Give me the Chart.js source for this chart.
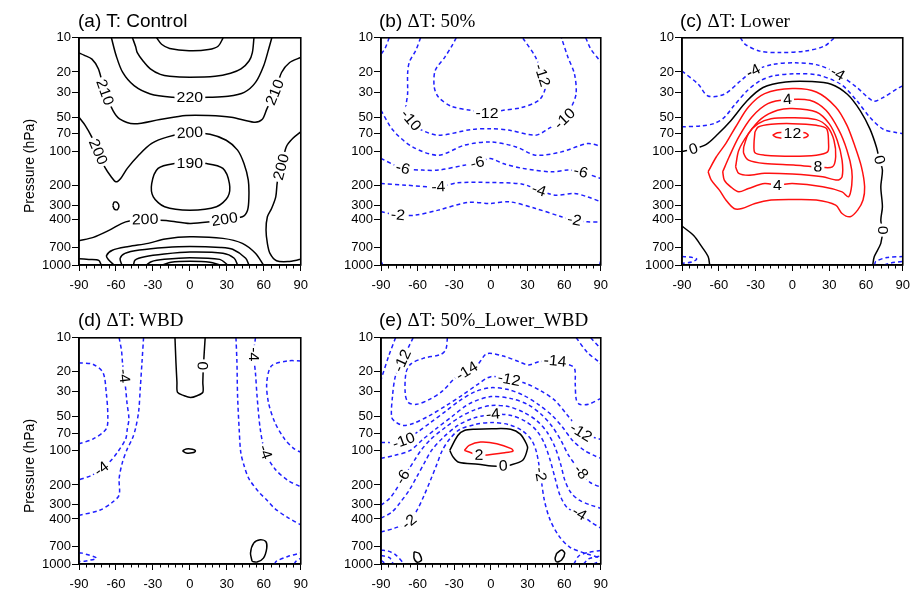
<!DOCTYPE html>
<html>
<head>
<meta charset="utf-8">
<script src="https://cdn.jsdelivr.net/npm/chart.js@4.4.1/dist/chart.umd.min.js"></script>
<style>
  html, body { margin: 0; padding: 0; background: #fff; overflow: hidden; }
  #page { position: relative; width: 913px; height: 589px; overflow: hidden; background: #fff; }
  canvas { position: absolute; }
  .ttl { position: absolute; font: 19px "Liberation Sans", Arial, sans-serif; white-space: nowrap; color: #000; line-height: 22px; }
  .ttl .tm { font-family: "Liberation Serif", "Times New Roman", serif; }
  .ylab { position: absolute; font: 14px "Liberation Sans", Arial, sans-serif; white-space: nowrap; color: #000;
          transform: translate(-50%, -50%) rotate(-90deg); }
</style>
</head>
<body>
<div id="page">
  <canvas id="pa"></canvas>
  <canvas id="pb"></canvas>
  <canvas id="pc"></canvas>
  <canvas id="pd"></canvas>
  <canvas id="pe"></canvas>
  <div class="ttl" style="left:78px;top:10px">(a) T: Control</div>
  <div class="ttl" style="left:379px;top:10px">(b) <span class="tm">&Delta;T: 50%</span></div>
  <div class="ttl" style="left:680px;top:10px">(c) <span class="tm">&Delta;T: Lower</span></div>
  <div class="ttl" style="left:78px;top:309px">(d) <span class="tm">&Delta;T: WBD</span></div>
  <div class="ttl" style="left:379px;top:309px">(e) <span class="tm">&Delta;T: 50%_Lower_WBD</span></div>
  <div class="ylab" style="left:29px;top:166px">Pressure (hPa)</div>
  <div class="ylab" style="left:29px;top:466px">Pressure (hPa)</div>
</div>
<script>
"use strict";

// axis ticks
var latTicks = [-90, -60, -30, 0, 30, 60, 90];
var presTicks = [10, 20, 30, 50, 70, 100, 200, 300, 400, 700, 1000];

// ------------------------------------------------------- //
// (a) T: Control   [lat, hPa]
// ------------------------------------------------------ //
var a240 = [[-27,10],[-23,11.4],[-16.4,12.4],[-0.6,13],[15.2,12.7],[23.1,11.8],[27,10]];
var a230 = [[-46.6,10],[-44,12],[-42.7,13.5],[-38,16],[-32.1,18.8],[-24,21],[-16.4,21.8],[0,22.2],[20.5,21.8],[33,20.5],[41.5,18.8],[48,16],[50.7,13.5],[52,10]];
var a220 = [[-63.7,10],[-59.8,14.4],[-54.5,20.2],[-45.3,26.4],[-32.1,31.2],[-13.7,33.4],[0,33.6],[15.2,33.4],[31,32.7],[44.1,30.2],[53.3,24.7],[59.9,17.6],[63.9,12.6],[66.5,10]];
var a210 = [[-90,13.6],[-86,14.2],[-79.5,15.4],[-74.2,18.8],[-69,30.2],[-62.4,43.7],[-57.1,51.7],[-45.3,57.1],[-24.3,52.4],[-3.2,48.3],[15.2,48.3],[33.6,50],[52,55.3],[58.6,52.4],[62.5,42.2],[69.1,30.2],[74.4,20.2],[81,16.5],[90,14.9]];
var a200 = [[-90,50],[-85,58.9],[-79.7,74.5],[-74.5,101],[-69.2,137],[-63.9,167],[-60,185],[-56,172],[-50.8,141],[-41.6,108],[-31,85],[-17.9,74.5],[0,68.6],[16.3,70.6],[29.5,79.8],[38.7,97.5],[43.9,128],[47.4,179],[47.9,251],[46.8,329],[42.6,376],[28.2,397],[16.3,417],[0,431],[-17.9,408],[-36.3,397],[-52.1,417],[-65.3,493],[-78.4,571],[-90,611]];
var a200r = [[90,67.4],[83.4,77.1],[78.2,91.3],[74.2,137],[71,185],[69.7,251],[66.3,318],[62.9,376],[61.8,493],[62.9,645],[65,789],[70.3,917],[79.5,933],[90,892]];
var a200s = [[-62.5,300],[-61.5,280],[-58.8,283],[-57.6,303],[-58.8,325],[-61.3,322],[-62.5,300]];
var a190 = [[0,128],[13.7,128],[26.8,141],[32.1,192],[30.8,251],[21.6,307],[0,329],[-20.5,307],[-29.7,251],[-31,192],[-25.8,141],[-12.6,128],[0,128]];
var a210s = [[-61.6,1000],[-66,900],[-67.7,828],[-62.9,741],[-49.7,687],[-33.9,645],[-20,590],[0,564],[26.8,583],[42.6,645],[53.2,789],[59.7,1000]];
var a220s = [[-55.3,1000],[-56.6,874],[-52.7,790],[-40.9,738],[-19.9,700],[0,686],[25,700],[34.7,727],[45.3,872],[47.9,1000]];
var a230s = [[-45.8,1000],[-44.5,904],[-36.6,846],[-20.8,801],[0,770],[26.8,789],[36,872],[38.7,1000]];
var a240s = [[-35.3,1000],[-31.4,935],[-20.8,892],[0,862],[24.2,892],[30.8,1000]];
var a250s = [[-22,1000],[-15.3,945],[0,927],[16.3,945],[24.2,1000]];
var a210b = [[-90,880],[-82,895],[-74,910],[-72,1000]];
var labA = [[220,0,33.6],[210,-69,30.2],[210,69.1,30.2],[200,-74.5,101],[200,0,68.6],[200,74.2,137],[190,0,128],[200,-36.3,397],[200,28.2,397]];

// ------------------------------------------------------- //
// (b) dT: 50%
// ------------------------------------------------------ //
var bN12 = [[-28.4,10],[-32.4,12],[-37.7,14.8],[-45.6,19.4],[-46.4,27.1],[-43,33.2],[-32.4,40.1],[-16.4,43.5],[-3.2,45.9],[10.1,43.5],[24.7,41.2],[39.3,35.5],[44.6,27.5],[41.9,21.4],[36.6,14.8],[26,10]];
var bN10 = [[-57.6,10],[-61.5,12.9],[-66.8,16.4],[-68.2,20.7],[-68.2,31],[-69.5,40.6],[-68.2,48.1],[-65.5,53.2],[-58.9,63.1],[-43,72],[-16.4,64.3],[-0.5,63.1],[15.4,65.2],[36.6,72],[47.2,63.1],[60.5,51.5],[65.8,41],[69.8,31],[68.4,20.7],[63.1,14.8],[57.8,10]];
var bN8a = [[-83.3,10],[-86.7,12.4],[-90,14]];
var bN8b = [[77.7,10],[81.7,12.5],[88.3,15.5],[90,16.4]];
var bN8 = [[-90,43.5],[-80.1,65.2],[-64.2,91.3],[-43,108],[-21.8,88.3],[-0.5,82.5],[20.7,91.3],[36.6,108],[57.8,101],[79,85.4],[90,89.9]];
var bN6 = [[-90,115.6],[-72.1,141],[-56.2,146],[-43,146],[-21.8,132.3],[-11.1,126],[-0.5,115.6],[10.1,128],[26,141],[49.9,151.4],[63.1,146],[73.7,151.4],[90,173.2]];
var bN4 = [[-90,192],[-69.5,198.3],[-43,205],[-27.1,189],[-0.5,187.8],[26,194.2],[39.3,219.5],[52.5,242.7],[68.4,234.5],[79,251],[90,277.7]];
var bN2 = [[-90,340],[-76.1,363.8],[-61.5,363.8],[-43,328.7],[-19.1,281.5],[-0.5,287],[15.4,278],[36.6,318],[57.8,376],[68.4,403],[79,417],[90,417]];
var bC1 = [[-90,930],[-88.5,1000]];
var bC2 = [[90,917],[89,1000]];
var labB = [[-12,-3.2,45.9],[-12,41.9,21.4],[-10,-65.5,53.2],[-10,60.5,51.5],[-6,-72.1,141],[-6,-11.1,126],[-6,73.7,151.4],[-4,-43,205],[-4,39.3,219.5],[-2,-76.1,363.8],[-2,68.4,403]];

// ------------------------------------------------------- //
// (c) dT: Lower
// ------------------------------------------------------ //
var cN6 = [[-42.4,10],[-38.5,11.4],[-26.6,13.1],[-10.7,13.5],[10.4,13.1],[26.3,11.8],[34.2,10]];
var cN4 = [[-90,19.6],[-76.8,25.6],[-68.9,32.5],[-55.6,31.4],[-42.4,24],[-31.9,19.6],[-16,17.15],[2.5,16.6],[21,17.4],[36.9,20.7],[52.7,27.4],[65.9,36],[73.9,33.6],[87.1,27.4],[90,26.5]];
var cN2 = [[-90,60.8],[-74.1,59.6],[-63.6,56.7],[-55.6,50.3],[-47.7,39.7],[-37.1,29.4],[-26.6,24],[-16,21.7],[2.5,20.7],[21,21.3],[39.5,25.6],[52.7,36],[63.3,50.3],[73.9,63.7],[84.4,68.2],[90,69.6]];
var cZ = [[-90,100],[-80.7,95.3],[-70.2,86.6],[-60.9,70.6],[-50.4,53.9],[-37.1,36],[-23.9,27.4],[-5.4,24.5],[15.7,24.3],[31.6,25.6],[44.8,31.4],[55.4,43.9],[63.3,63.7],[68.6,92.3],[71,119],[73.4,146],[72.1,205],[73.4,307],[72.1,403],[73.4,493],[72.1,645],[66.8,843],[65.5,1000]];
var cZb = [[-90,455],[-80.5,550],[-73.9,690],[-68.7,843],[-67.4,1000]];
var cP2 = [[-68.7,151],[-62.1,112],[-54.2,85],[-46.3,61],[-35.8,40.6],[-22.6,31],[0,28],[19.5,30],[35.3,40.6],[44.5,59],[51.1,91],[56.3,137],[58.9,205],[57.6,268],[53.2,329],[47.1,376],[40.5,352],[35.3,297],[19.5,268],[0,265],[-17.4,268],[-30.5,287],[-41.1,318],[-47.6,318],[-54.2,268],[-59.5,219],[-66.1,179],[-68.7,151]];
var cP4 = [[-56.8,151],[-51.6,112],[-43.7,74.5],[-33.2,50],[-20,38],[-4,35],[14.2,35.5],[27.4,43.5],[37.9,65],[44.5,97.5],[48.4,146],[48.4,198],[45.8,251],[40.5,227],[24.7,205],[0,192],[-12.1,198],[-22.6,192],[-35.8,212],[-43.7,227],[-50.3,205],[-55.5,179],[-56.8,151]];
var cP6 = [[-46.3,137],[-43.7,97.5],[-35.8,69.7],[-25.3,51.5],[-12.1,43.5],[0,42],[19.5,45],[30,57],[36.6,80],[40.5,119.5],[40.5,167.5],[36.6,179],[24.7,167.5],[0,158.5],[-22.6,156],[-35.8,162],[-43.7,156],[-46.3,137]];
var cP8 = [[-39.7,91.3],[-35.8,69.7],[-27.9,57],[-17.4,51.5],[0,50.5],[19.5,52.5],[28.7,61],[33.9,79.8],[35.3,111.6],[32.6,137],[20.8,137],[1.1,132],[-22.6,128],[-35.8,119.5],[-39.7,104],[-39.7,91.3]];
var cP10 = [[-30.5,67.4],[-27.9,61],[-17.4,57.7],[0,57],[19.5,58.9],[27.9,63.1],[29.5,85.4],[28.7,101],[19.5,108],[0,110.5],[-22.6,108],[-30.5,103],[-31.3,85.4],[-30.5,67.4]];
var cP12 = [[-16.1,72],[-12.1,68.6],[0,67.4],[10.3,68.6],[12.9,72],[10.3,75.6],[0,77.1],[-12.1,75.6],[-16.1,72]];
var cCl = [[-90,843],[-84,850],[-78,885],[-82,940],[-90,965]];
var cCr1 = [[67,1000],[68,930],[77,860],[90,843]];
var cCr2 = [[75,1000],[80,960],[90,930]];
var labC = [[-4,-31.9,19.6],[-4,36.9,20.7],[0,-80.7,95.3],[0,71,119],[0,73.4,493],[4,-4,35],[4,-12.1,198],[8,20.8,137],[12,0,70]];

// ------------------------------------------------------- //
// (d) dT: WBD
// ------------------------------------------------------ //
var dZa = [[-12.1,10],[-11.3,16.6],[-10.5,24.8],[-10,30.4],[-4.7,32.5],[0.5,33.7],[5.8,32.5],[10.5,30.4],[10.5,24.8],[11,17.7],[12.4,10]];
var dZb = [[-6,100],[-3,96],[2,96.5],[4.5,100],[2,104],[-3,104.5],[-6,100]];
var dZc = [[50.5,948],[49.2,801],[51.8,654],[57.1,611],[61.6,632],[62.4,723],[59.7,886],[54.5,961],[50.5,948]];
var dN6L = [[-90,16.6],[-78.4,17.2],[-70.5,20.3],[-67.9,30.4],[-66.6,48.8],[-67.9,63.9],[-78.4,78.3],[-90,86.6]];
var dN4L = [[-57.4,10],[-55.5,13],[-54.7,16.6],[-53.4,21.7],[-52.1,28.4],[-51,38],[-49.5,52],[-50.8,63.9],[-52.1,78.3],[-58.7,102.6],[-65.3,125.7],[-71.8,143.8],[-79.7,164.5],[-90,180]];
var dN2L = [[-37.6,10],[-38.9,16.6],[-40.3,28.4],[-41.6,45],[-44.2,63.9],[-46.8,78.3],[-50.8,95.9],[-54.7,125.7],[-57.4,175],[-57.4,245],[-62.6,283],[-73.2,335],[-90,371]];
var dN2R = [[37.4,10],[38.2,16.6],[38.7,32.5],[40,64],[41.3,103],[43.9,134],[47.9,176],[55.8,230],[62.4,272],[68.9,323],[79.5,389],[90,451]];
var dN4R = [[53.2,10],[51.8,14],[53.2,20.3],[54.5,32.5],[57.1,63.9],[61.1,102.6],[68.9,143.8],[79.5,182],[90,208]];
var dN6R = [[90,16],[79.5,16],[66.3,17.7],[62.4,24.8],[63.7,37],[68.9,55.8],[76.8,78.3],[84.7,95.9],[90,102.6]];
var dCl = [[-90,801],[-87.6,801],[-75.8,886],[-86.3,948],[-90,950]];
var dCr1 = [[68.9,1000],[70,948],[79.5,858],[90,801]];
var dCr2 = [[84.7,1000],[86,948],[90,886]];
var labD = [[0,11,17.7],[-4,-53.4,21.7],[-4,-71.8,143.8],[-4,51.8,14],[-4,61.1,102.6]];

// ------------------------------------------------------- //
// (e) dT: 50%_Lower_WBD
// ------------------------------------------------------ //
var eN10c = [[-78.1,10],[-83.6,14.4],[-90,23.5]];
var eN12 = [[-63.7,10],[-67.7,12.25],[-72.5,15.95],[-78.1,21.6],[-80.7,33.8],[-81.2,50.7],[-77.3,56.1],[-71.7,59.6],[-63.7,57.25],[-50.2,48.7],[-36.6,39.7],[-23.9,32.4],[-11.1,25.95],[0,22.06],[14.9,23.3],[28.7,25.4],[40.6,29.3],[52.6,35.9],[62.9,48.7],[71.7,63.4],[73.8,68.7],[82,74.5],[90,79.2]];
var eN14 = [[-35.6,10],[-36.9,12.7],[-40.9,14],[-55.5,15.2],[-65.5,17],[-69.5,20.3],[-70.1,31.6],[-67.5,37.4],[-60.8,38.7],[-50.2,35],[-39.6,29.5],[-28.9,22.5],[-19.7,19.65],[-10.4,17],[-3.2,13.8],[10.1,14.5],[23.3,16.3],[30.8,17.4],[39.3,16.3],[52.6,16.05],[63.2,17.2],[68.5,18.6],[69.1,25.8],[69.9,35],[72.5,38.7],[79.9,38.7],[90,34.3]];
var eTR1 = [[69.9,10],[79.1,13.5],[88.4,16.3],[90,17]];
var eTR2 = [[81.8,10],[90,12.5]];
var eN10 = [[-90,84.2],[-82.8,84.2],[-71.4,81.3],[-60.5,68.7],[-49.4,56.1],[-37.4,44.9],[-25.5,35.9],[-12.7,29.9],[0,27.6],[14.3,28.7],[27.1,32.4],[39,38.9],[50.2,48.7],[58.9,62.1],[66.9,80.8],[76.5,99],[84.4,109.6],[90,116.4]];
var eN8 = [[-90,116.4],[-78.8,109.6],[-66.1,99],[-55.8,79.2],[-44.6,63.4],[-31.9,49.7],[-17.5,38.15],[0,33.1],[16.7,34.5],[30.3,38.9],[41.4,47.7],[50.2,60.8],[57.4,80.8],[63.7,109.6],[73.8,153.8],[81.2,189.5],[90,209.7]];
var eN6 = [[-90,302.1],[-82.8,262],[-76.5,209.7],[-72.2,170.2],[-66.9,142.7],[-62.1,118.8],[-57.3,99],[-49.4,79.2],[-37.4,62.1],[-24.7,49.7],[-12.7,43.1],[0,39.7],[14.3,40.55],[27.1,45.8],[37.4,53.8],[46.2,68.7],[52.6,93.1],[57.4,134.2],[60.5,180.8],[65.3,232.1],[72.5,273],[82,302.1],[90,321]];
var eN4 = [[-90,393.3],[-81.2,348.3],[-74.1,284.3],[-66.9,222.8],[-60.5,167.8],[-54.2,126.3],[-48.6,99],[-39,76],[-27.1,59.6],[-15.1,51.7],[1.6,47.4],[16.7,48.7],[28.7,55],[37.4,66],[43.8,85.9],[48.6,121.2],[52.6,174.7],[56.6,246.6],[62.9,321],[72.5,357.5],[82,426.6],[90,481.6]];
var eN2 = [[-90,522.5],[-78.8,481.6],[-66.9,424],[-60.5,334.4],[-55,251.8],[-49.4,180.8],[-44.6,134.2],[-39.8,99],[-33.4,77.6],[-25.5,64.7],[-12.7,58.4],[0,56.1],[14.3,58.4],[25.5,66],[33.5,80.8],[37.4,103.1],[40.6,161.1],[43.8,273],[48.6,409.6],[55.8,566.5],[64.5,708.5],[76.5,800],[90,885]];
var eZ = [[-33.7,99],[-27.1,73],[-21.7,66],[-13,64.3],[0.8,63.7],[16.2,64.3],[24.1,71.1],[29.2,87],[30,95.6],[26.1,121],[15.4,134],[10.1,136],[0.8,136],[-10.4,131],[-26.3,126],[-31,113],[-33.7,99]];
var eP2 = [[-21.7,99],[-17.8,89.4],[-8.5,83.6],[4.8,86.3],[16.7,95.6],[18.1,100.3],[11.4,103.6],[-9.8,109.3],[-17.8,102.2],[-21.7,99]];
var eZl = [[-62.9,779],[-58.9,805],[-56.8,922],[-60.3,966],[-62.9,891],[-62.9,779]];
var eZr = [[53.9,805],[57.9,753],[60.5,805],[57.9,922],[53.9,958],[52.6,891],[53.9,805]];
var eCl1 = [[-90,750],[-84,770],[-78,830],[-71,1000]];
var eCl2 = [[-90,840],[-83,880],[-80,1000]];
var eCl3 = [[-90,930],[-86,1000]];
var eCr1 = [[68,1000],[72,850],[80,790],[90,760]];
var eCr2 = [[76,1000],[80,900],[90,850]];
var eCr3 = [[84,1000],[90,940]];
var labE = [[-12,-72.5,15.95],[-14,-19.7,19.65],[-14,52.6,16.05],[-12,14.9,23.3],[-12,73.8,68.7],[-10,-71.4,81.3],[-8,73.8,153.8],[-6,-72.2,170.2],[-4,1.6,47.4],[-4,72.5,357.5],[-2,-66.9,424],[-2,40.6,161.1],[0,10.1,136],[2,-9.8,109.3]];

// ------------------------------------------------------- //
// drawing
// ------------------------------------------------------ //
var fontSans = '"Liberation Sans", Arial, Helvetica, sans-serif';
var blue = "#1f1fff";
var red = "#ff1010";

var framePlugin = {
    id: "frame",
    afterDraw: function (chart) {
        var ctx = chart.ctx, a = chart.chartArea, x = chart.scales.x;
        ctx.save();
        ctx.strokeStyle = "#000";
        ctx.lineWidth = 1;
        ctx.beginPath();
        for (var v = -90; v <= 90; v += 6) {
            if (v % 30 === 0) continue;
            var px = Math.round(x.getPixelForValue(v)) + 0.5;
            ctx.moveTo(px, a.bottom);
            ctx.lineTo(px, a.bottom + 3.5);
        }
        ctx.stroke();
        ctx.lineWidth = 1.6;
        ctx.strokeRect(a.left, a.top, a.right - a.left, a.bottom - a.top);
        ctx.restore();
    }
};

function labelPlugin(items) {
    return {
        id: "clabels",
        afterDatasetsDraw: function (chart) {
            var ctx = chart.ctx, xs = chart.scales.x, ys = chart.scales.y;
            ctx.save();
            ctx.font = "15px " + fontSans;
            ctx.textAlign = "center";
            ctx.textBaseline = "middle";
            items.forEach(function (it) {
                var lv = it[0];
                var px = xs.getPixelForValue(it[1]), py = ys.getPixelForValue(it[2]);
                var best = null, bd = Infinity;
                chart.data.datasets.forEach(function (ds) {
                    if (ds.level !== lv) return;
                    ds.data.forEach(function (pt, i) {
                        var d = Math.hypot(xs.getPixelForValue(pt.x) - px, ys.getPixelForValue(pt.y) - py);
                        if (d < bd) { bd = d; best = {ds: ds, i: i}; }
                    });
                });
                var ang = 0;
                if (best) {
                    var d = best.ds.data, i = best.i;
                    var p0 = d[Math.max(0, i - 1)], p1 = d[Math.min(d.length - 1, i + 1)];
                    ang = Math.atan2(ys.getPixelForValue(p1.y) - ys.getPixelForValue(p0.y),
                                     xs.getPixelForValue(p1.x) - xs.getPixelForValue(p0.x));
                    if (ang > Math.PI / 2) ang -= Math.PI;
                    if (ang < -Math.PI / 2) ang += Math.PI;
                }
                var txt = String(lv);
                ctx.save();
                ctx.translate(px, py);
                ctx.rotate(ang);
                ctx.scale(1.06, 1);
                var w = ctx.measureText(txt).width;
                ctx.fillStyle = "#fff";
                ctx.fillRect(-w / 2 - 2, -7, w + 4, 14);
                ctx.fillStyle = "#000";
                ctx.fillText(txt, 0, 0.5);
                ctx.restore();
            });
            ctx.restore();
        }
    };
}

function makePanel(id, box, contours, labels, absolute) {
    var padT = 8, padR = 8, yW = 52, xH = 32;
    var cv = document.getElementById(id);
    cv.width = box.w + yW + padR;
    cv.height = box.h + padT + xH;
    cv.style.left = (box.l - yW) + "px";
    cv.style.top = (box.t - padT) + "px";

    var datasets = contours.map(function (c) {
        var lv = c[0];
        var col = absolute ? "#000" : (lv < 0 ? blue : (lv > 0 ? red : "#000"));
        return {
            level: lv,
            data: c[1].map(function (p) { return {x: p[0], y: p[1]}; }),
            showLine: true,
            fill: false,
            pointRadius: 0,
            borderWidth: 1.5,
            borderColor: col,
            borderDash: (!absolute && lv < 0) ? [4, 3] : [],
            tension: 0.3
        };
    });

    var tickFont = {family: fontSans, size: 13};
    return new Chart(cv, {
        type: "scatter",
        data: {datasets: datasets},
        options: {
            responsive: false,
            animation: false,
            events: [],
            layout: {padding: {left: 0, top: padT, right: padR, bottom: 0}},
            plugins: {legend: {display: false}, tooltip: {enabled: false}},
            scales: {
                x: {
                    type: "linear", min: -90, max: 90,
                    afterBuildTicks: function (s) { s.ticks = latTicks.map(function (v) { return {value: v}; }); },
                    afterFit: function (s) { s.height = xH; },
                    ticks: {color: "#000", font: tickFont, padding: 7, maxRotation: 0, autoSkip: false},
                    grid: {drawOnChartArea: false, drawTicks: true, tickLength: 6, color: "#000", lineWidth: 1},
                    border: {display: true, color: "#000", width: 1.6}
                },
                y: {
                    type: "logarithmic", reverse: true, min: 10, max: 1000,
                    afterBuildTicks: function (s) { s.ticks = presTicks.map(function (v) { return {value: v}; }); },
                    afterFit: function (s) { s.width = yW; },
                    ticks: {color: "#000", font: tickFont, padding: 1, autoSkip: false,
                            callback: function (v) { return String(v); }},
                    grid: {drawOnChartArea: false, drawTicks: true, tickLength: 7, color: "#000", lineWidth: 1},
                    border: {display: true, color: "#000", width: 1.6}
                }
            }
        },
        plugins: [labelPlugin(labels), framePlugin]
    });
}

document.addEventListener("DOMContentLoaded", function () {
    makePanel("pa", {l: 79, t: 37, w: 228, h: 228}, [
        [240, a240], [230, a230], [220, a220], [210, a210], [200, a200], [200, a200r], [200, a200s],
        [190, a190], [210, a210s], [220, a220s], [230, a230s], [240, a240s], [250, a250s], [210, a210b]
    ], labA, true);

    makePanel("pb", {l: 381, t: 37, w: 226, h: 228}, [
        [-12, bN12], [-10, bN10], [-8, bN8a], [-8, bN8b], [-8, bN8], [-6, bN6], [-4, bN4], [-2, bN2],
        [-2, bC1], [-2, bC2]
    ], labB, false);

    makePanel("pc", {l: 682, t: 37, w: 227, h: 228}, [
        [-6, cN6], [-4, cN4], [-2, cN2], [0, cZ], [0, cZb], [2, cP2], [4, cP4], [6, cP6], [8, cP8],
        [10, cP10], [12, cP12], [-2, cCl], [-2, cCr1], [-4, cCr2]
    ], labC, false);

    makePanel("pd", {l: 79, t: 337, w: 228, h: 227}, [
        [0, dZa], [0, dZb], [0, dZc], [-6, dN6L], [-4, dN4L], [-2, dN2L], [-2, dN2R], [-4, dN4R], [-6, dN6R],
        [-2, dCl], [-2, dCr1], [-4, dCr2]
    ], labD, false);

    makePanel("pe", {l: 381, t: 337, w: 226, h: 227}, [
        [-10, eN10c], [-12, eN12], [-14, eN14], [-12, eTR1], [-10, eTR2], [-10, eN10], [-8, eN8], [-6, eN6],
        [-4, eN4], [-2, eN2], [0, eZ], [2, eP2], [0, eZl], [0, eZr],
        [-2, eCl1], [-4, eCl2], [-6, eCl3], [-2, eCr1], [-4, eCr2], [-6, eCr3]
    ], labE, false);
});
</script>
</body>
</html>
